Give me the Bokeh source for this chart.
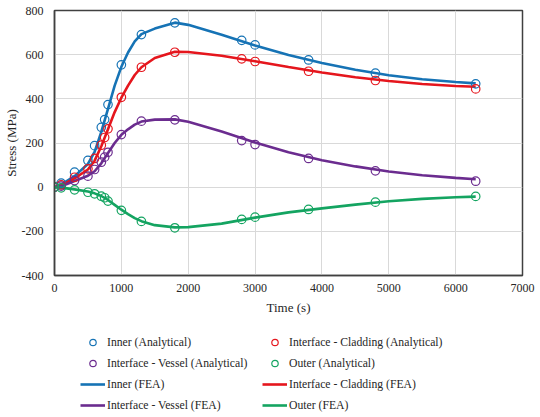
from bokeh.plotting import figure
from bokeh.models import Legend, LegendItem, FixedTicker, Range1d, PrintfTickFormatter
from bokeh.layouts import column
from bokeh.embed import file_html
from bokeh.resources import INLINE

# Analytical sample times (s)
t_an = [0, 100, 300, 500, 600, 700, 750, 800, 1000, 1300, 1800, 2800, 3000, 3800, 4800, 6300]
inner_an = [0, 18, 68, 121, 188, 271, 306, 374, 554, 691, 744, 665, 644, 576, 516, 468]
clad_an = [0, 10, 45, 83, 130, 190, 225, 264, 407, 543, 611, 581, 569, 525, 483, 445]
vessel_an = [0, 5, 30, 50, 80, 113, 136, 158, 238, 299, 305, 211, 193, 130, 74, 27]
outer_an = [0, -3, -12, -23, -30, -41, -48, -63, -105, -155, -184, -146, -136, -101, -68, -42]

# FEA curves
t_fea = [0, 100, 300, 500, 600, 700, 800, 900, 1000, 1100, 1200, 1300, 1500, 1800, 2000,
         2500, 3000, 3500, 4000, 4500, 5000, 5500, 6000, 6300]
inner_fea = [0, 12, 50, 105, 160, 250, 355, 460, 545, 610, 660, 693, 718, 745, 735,
             690, 642, 598, 562, 532, 507, 489, 476, 470]
clad_fea = [0, 8, 40, 80, 120, 185, 262, 340, 405, 460, 508, 543, 585, 613, 612,
            595, 570, 544, 519, 498, 481, 467, 458, 455]
vessel_fea = [0, 4, 28, 52, 72, 108, 155, 200, 237, 262, 283, 297, 306, 307, 296,
              252, 202, 158, 122, 94, 71, 54, 42, 36]
outer_fea = [0, -2, -10, -20, -28, -40, -58, -80, -102, -122, -140, -154, -172, -182, -181,
             -165, -138, -114, -96, -79, -64, -53, -46, -43]

x_ticks = [0, 1000, 2000, 3000, 4000, 5000, 6000, 7000]
y_ticks = [-400, -200, 0, 200, 400, 600, 800]

BLUE = "#1673B5"
RED = "#E5161D"
PURPLE = "#6B2C8F"
GREEN = "#14A461"
FONT = "Liberation Serif"

p = figure(width=538, height=322, output_backend="svg", toolbar_location=None,
           x_range=Range1d(0, 7000), y_range=Range1d(-400, 800),
           min_border_left=5, min_border_right=16, min_border_top=10, min_border_bottom=47)

p.xaxis.ticker = FixedTicker(ticks=x_ticks)
p.yaxis.ticker = FixedTicker(ticks=y_ticks)
for ax in (p.xaxis, p.yaxis):
    ax.formatter = PrintfTickFormatter(format="%d")
    ax.major_tick_line_color = None
    ax.minor_tick_line_color = None
    ax.axis_line_color = "#404040"
    ax.axis_line_width = 1.5
    ax.major_label_text_font = FONT
    ax.major_label_text_font_size = "12px"
    ax.major_label_text_color = "#262626"
    ax.axis_label_text_font = FONT
    ax.axis_label_text_font_size = "13px"
    ax.axis_label_text_font_style = "normal"
    ax.axis_label_text_color = "#262626"
p.xaxis.axis_label = "Time (s)"
p.yaxis.axis_label = "Stress (MPa)"
p.xaxis.major_label_standoff = 2
p.xaxis.axis_label_standoff = 5
p.yaxis.major_label_standoff = 5
p.yaxis.axis_label_standoff = 0

p.xgrid.grid_line_color = "#D9D9D9"
p.ygrid.grid_line_color = "#D9D9D9"
p.outline_line_color = "#404040"
p.outline_line_width = 1.5
p.background_fill_color = "white"
p.border_fill_color = "white"

lw = 2.6
ms = 8.5
mw = 1.2
p.line(t_fea, inner_fea, line_color=BLUE, line_width=lw)
p.line(t_fea, clad_fea, line_color=RED, line_width=lw)
p.line(t_fea, vessel_fea, line_color=PURPLE, line_width=lw)
p.line(t_fea, outer_fea, line_color=GREEN, line_width=lw)
p.scatter(t_an, inner_an, marker="circle", size=ms, fill_color=None, line_color=BLUE, line_width=mw)
p.scatter(t_an, clad_an, marker="circle", size=ms, fill_color=None, line_color=RED, line_width=mw)
p.scatter(t_an, vessel_an, marker="circle", size=ms, fill_color=None, line_color=PURPLE, line_width=mw)
p.scatter(t_an, outer_an, marker="circle", size=ms, fill_color=None, line_color=GREEN, line_width=mw)

# Legend strip: same series drawn with identical styles, kept out of view so only the legend shows
q = figure(width=538, height=93, output_backend="svg", toolbar_location=None,
           x_range=Range1d(-3, -2), y_range=Range1d(-3, -2),
           x_axis_location=None, y_axis_location=None,
           min_border_left=0, min_border_right=0, min_border_top=0, min_border_bottom=0)
q.grid.visible = False
q.outline_line_color = None
q.border_fill_color = "white"
q.background_fill_color = "white"

g_inner_a = q.scatter(t_an, inner_an, marker="circle", size=8, fill_color=None, line_color=BLUE, line_width=mw)
g_clad_a = q.scatter(t_an, clad_an, marker="circle", size=8, fill_color=None, line_color=RED, line_width=mw)
g_vessel_a = q.scatter(t_an, vessel_an, marker="circle", size=8, fill_color=None, line_color=PURPLE, line_width=mw)
g_outer_a = q.scatter(t_an, outer_an, marker="circle", size=8, fill_color=None, line_color=GREEN, line_width=mw)
g_inner_f = q.line(t_fea, inner_fea, line_color=BLUE, line_width=lw)
g_clad_f = q.line(t_fea, clad_fea, line_color=RED, line_width=lw)
g_vessel_f = q.line(t_fea, vessel_fea, line_color=PURPLE, line_width=lw)
g_outer_f = q.line(t_fea, outer_fea, line_color=GREEN, line_width=lw)

# column-major order: left column then right column
items = [
    LegendItem(label="Inner (Analytical)", renderers=[g_inner_a]),
    LegendItem(label="Interface - Vessel (Analytical)", renderers=[g_vessel_a]),
    LegendItem(label="Inner (FEA)", renderers=[g_inner_f]),
    LegendItem(label="Interface - Vessel (FEA)", renderers=[g_vessel_f]),
    LegendItem(label="Interface - Cladding (Analytical)", renderers=[g_clad_a]),
    LegendItem(label="Outer (Analytical)", renderers=[g_outer_a]),
    LegendItem(label="Interface - Cladding (FEA)", renderers=[g_clad_f]),
    LegendItem(label="Outer (FEA)", renderers=[g_outer_f]),
]
legend = Legend(items=items, orientation="vertical", nrows=4, location=(26, 2),
                glyph_width=25, glyph_height=16, label_height=16, label_width=150,
                label_standoff=2, spacing=5, padding=1, margin=0,
                label_text_font=FONT, label_text_font_size="11.7px",
                label_text_color="#262626", border_line_color=None,
                background_fill_alpha=0)
q.add_layout(legend, "center")

layout = column(p, q, spacing=0)
open("out.html", "w").write(file_html(layout, INLINE))
